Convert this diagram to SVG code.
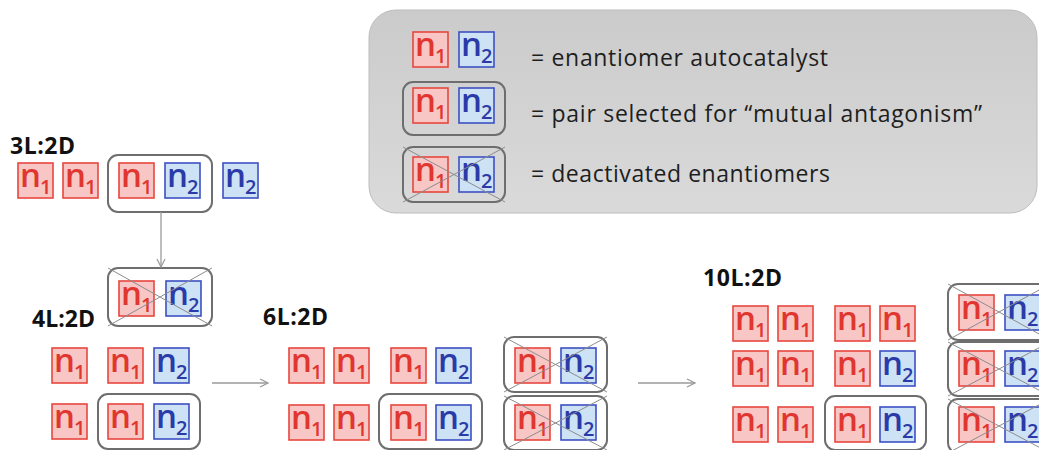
<svg xmlns="http://www.w3.org/2000/svg" width="1039" height="450" viewBox="0 0 1039 450">
<defs>
<linearGradient id="lg" x1="0" y1="0" x2="0" y2="1">
<stop offset="0" stop-color="#cbcbcb"/>
<stop offset="1" stop-color="#dadada"/>
</linearGradient>
<marker id="ah" viewBox="0 0 10 10" refX="9" refY="5" markerWidth="10" markerHeight="10" markerUnits="userSpaceOnUse" orient="auto">
<path d="M1,1 L9,5 L1,9" fill="none" stroke="#9a9a9a" stroke-width="1.2"/>
</marker>
<style>
.r{fill:#f8c6c4;stroke:#e8463f;stroke-width:1.6}
.b{fill:#cde2f4;stroke:#3d50c4;stroke-width:1.6}
.tr{fill:#e0362f;font-family:"Open Sans","Liberation Sans",sans-serif;font-weight:600}
.tb{fill:#2a3aa8;font-family:"Open Sans","Liberation Sans",sans-serif;font-weight:600}
.n{font-size:33px}
.s{font-size:20px}
.pair{fill:none;stroke:#6e6e6e;stroke-width:2}
.x{stroke:#8c8c8c;stroke-width:1;fill:none}
.lbl{font-family:"Open Sans","Liberation Sans",sans-serif;font-weight:bold;font-size:23px;fill:#111}
.leg{font-family:"Open Sans","Liberation Sans",sans-serif;font-size:23px;fill:#1e1e1e}
.conn{stroke:#9a9a9a;stroke-width:1.3;fill:none}
</style>
</defs>
<rect width="1039" height="450" fill="#ffffff"/>

<g id="legend">
<rect x="369" y="10" width="668" height="203" rx="27" fill="url(#lg)" stroke="#bdbdbd" stroke-width="1"/>
<g id="leg-n1"><rect class="r" x="413" y="32" width="35" height="35"/><text class="tr"><tspan class="n" x="415" y="56">n</tspan><tspan class="s" x="435" y="63">1</tspan></text></g>
<g id="leg-n2"><rect class="b" x="459" y="32" width="35" height="35"/><text class="tb"><tspan class="n" x="461" y="56">n</tspan><tspan class="s" x="481" y="63">2</tspan></text></g>
<text class="leg" x="531" y="66" textLength="297">= enantiomer autocatalyst</text>
<g id="leg-pair">
<rect class="pair" x="403" y="82" width="102" height="53" rx="10"/>
<rect class="r" x="413" y="88" width="35" height="35"/><text class="tr"><tspan class="n" x="415" y="112">n</tspan><tspan class="s" x="435" y="119">1</tspan></text>
<rect class="b" x="459" y="88" width="35" height="35"/><text class="tb"><tspan class="n" x="461" y="112">n</tspan><tspan class="s" x="481" y="119">2</tspan></text>
</g>
<text class="leg" x="531" y="122" textLength="451">= pair selected for “mutual antagonism”</text>
<g id="leg-deact">
<rect class="pair" x="403" y="147" width="102" height="55" rx="10"/>
<rect class="r" x="413" y="157" width="35" height="35"/><text class="tr"><tspan class="n" x="415" y="181">n</tspan><tspan class="s" x="435" y="188">1</tspan></text>
<rect class="b" x="459" y="157" width="35" height="35"/><text class="tb"><tspan class="n" x="461" y="181">n</tspan><tspan class="s" x="481" y="188">2</tspan></text>
<path class="x" d="M403,147 L505,202 M403,202 L505,147"/>
</g>
<text class="leg" x="531" y="182" textLength="299">= deactivated enantiomers</text>
</g>

<g id="stage-3L">
<text class="lbl" x="10" y="154" textLength="65">3L:2D</text>
<g id="s3-a"><rect class="r" x="18" y="163" width="35" height="35"/><text class="tr"><tspan class="n" x="20" y="187">n</tspan><tspan class="s" x="40" y="194">1</tspan></text></g>
<g id="s3-b"><rect class="r" x="63" y="163" width="35" height="35"/><text class="tr"><tspan class="n" x="65" y="187">n</tspan><tspan class="s" x="85" y="194">1</tspan></text></g>
<g id="s3-pair">
<rect class="pair" x="108" y="155" width="104" height="57" rx="10"/>
<rect class="r" x="119" y="163" width="35" height="35"/><text class="tr"><tspan class="n" x="121" y="187">n</tspan><tspan class="s" x="141" y="194">1</tspan></text>
<rect class="b" x="165" y="163" width="35" height="35"/><text class="tb"><tspan class="n" x="167" y="187">n</tspan><tspan class="s" x="187" y="194">2</tspan></text>
</g>
<g id="s3-e"><rect class="b" x="223" y="163" width="35" height="35"/><text class="tb"><tspan class="n" x="225" y="187">n</tspan><tspan class="s" x="245" y="194">2</tspan></text></g>
</g>

<g id="stage-4L">
<g id="s4-deact">
<rect class="pair" x="108" y="268" width="104" height="58" rx="10"/>
<rect class="r" x="119" y="281" width="35" height="35"/><text class="tr"><tspan class="n" x="121" y="305">n</tspan><tspan class="s" x="141" y="312">1</tspan></text>
<rect class="b" x="166" y="281" width="35" height="35"/><text class="tb"><tspan class="n" x="168" y="305">n</tspan><tspan class="s" x="188" y="312">2</tspan></text>
<path class="x" d="M108,268 L212,326 M108,326 L212,268"/>
</g>
<text class="lbl" x="32" y="327" textLength="63">4L:2D</text>
<g id="s4-a"><rect class="r" x="52" y="348" width="35" height="35"/><text class="tr"><tspan class="n" x="54" y="372">n</tspan><tspan class="s" x="74" y="379">1</tspan></text></g>
<g id="s4-b"><rect class="r" x="108" y="348" width="35" height="35"/><text class="tr"><tspan class="n" x="110" y="372">n</tspan><tspan class="s" x="130" y="379">1</tspan></text></g>
<g id="s4-c"><rect class="b" x="154" y="348" width="35" height="35"/><text class="tb"><tspan class="n" x="156" y="372">n</tspan><tspan class="s" x="176" y="379">2</tspan></text></g>
<g id="s4-d"><rect class="r" x="52" y="404" width="35" height="35"/><text class="tr"><tspan class="n" x="54" y="428">n</tspan><tspan class="s" x="74" y="435">1</tspan></text></g>
<g id="s4-pair">
<rect class="pair" x="98" y="394" width="102" height="55" rx="10"/>
<rect class="r" x="108" y="404" width="35" height="35"/><text class="tr"><tspan class="n" x="110" y="428">n</tspan><tspan class="s" x="130" y="435">1</tspan></text>
<rect class="b" x="154" y="404" width="35" height="35"/><text class="tb"><tspan class="n" x="156" y="428">n</tspan><tspan class="s" x="176" y="435">2</tspan></text>
</g>
</g>

<g id="stage-6L">
<text class="lbl" x="263" y="325" textLength="65">6L:2D</text>
<g id="s6-a"><rect class="r" x="289" y="348" width="35" height="35"/><text class="tr"><tspan class="n" x="291" y="372">n</tspan><tspan class="s" x="311" y="379">1</tspan></text></g>
<g id="s6-b"><rect class="r" x="334" y="348" width="35" height="35"/><text class="tr"><tspan class="n" x="336" y="372">n</tspan><tspan class="s" x="356" y="379">1</tspan></text></g>
<g id="s6-c"><rect class="r" x="391" y="348" width="35" height="35"/><text class="tr"><tspan class="n" x="393" y="372">n</tspan><tspan class="s" x="413" y="379">1</tspan></text></g>
<g id="s6-d"><rect class="b" x="436" y="348" width="35" height="35"/><text class="tb"><tspan class="n" x="438" y="372">n</tspan><tspan class="s" x="458" y="379">2</tspan></text></g>
<g id="s6-deact1">
<rect class="pair" x="504" y="337" width="103" height="55" rx="10"/>
<rect class="r" x="515" y="348" width="35" height="35"/><text class="tr"><tspan class="n" x="517" y="372">n</tspan><tspan class="s" x="537" y="379">1</tspan></text>
<rect class="b" x="561" y="348" width="35" height="35"/><text class="tb"><tspan class="n" x="563" y="372">n</tspan><tspan class="s" x="583" y="379">2</tspan></text>
<path class="x" d="M504,337 L607,392 M504,392 L607,337"/>
</g>
<g id="s6-e"><rect class="r" x="289" y="405" width="35" height="35"/><text class="tr"><tspan class="n" x="291" y="429">n</tspan><tspan class="s" x="311" y="436">1</tspan></text></g>
<g id="s6-f"><rect class="r" x="334" y="405" width="35" height="35"/><text class="tr"><tspan class="n" x="336" y="429">n</tspan><tspan class="s" x="356" y="436">1</tspan></text></g>
<g id="s6-pair">
<rect class="pair" x="379" y="394" width="103" height="55" rx="10"/>
<rect class="r" x="391" y="405" width="35" height="35"/><text class="tr"><tspan class="n" x="393" y="429">n</tspan><tspan class="s" x="413" y="436">1</tspan></text>
<rect class="b" x="436" y="405" width="35" height="35"/><text class="tb"><tspan class="n" x="438" y="429">n</tspan><tspan class="s" x="458" y="436">2</tspan></text>
</g>
<g id="s6-deact2">
<rect class="pair" x="504" y="396" width="103" height="54" rx="10"/>
<rect class="r" x="515" y="405" width="35" height="35"/><text class="tr"><tspan class="n" x="517" y="429">n</tspan><tspan class="s" x="537" y="436">1</tspan></text>
<rect class="b" x="561" y="405" width="35" height="35"/><text class="tb"><tspan class="n" x="563" y="429">n</tspan><tspan class="s" x="583" y="436">2</tspan></text>
<path class="x" d="M504,396 L607,450 M504,450 L607,396"/>
</g>
</g>

<g id="stage-10L">
<text class="lbl" x="703" y="286" textLength="79">10L:2D</text>
<g id="s10-r1a"><rect class="r" x="733" y="306" width="35" height="35"/><text class="tr"><tspan class="n" x="735" y="330">n</tspan><tspan class="s" x="755" y="337">1</tspan></text></g>
<g id="s10-r1b"><rect class="r" x="778" y="306" width="35" height="35"/><text class="tr"><tspan class="n" x="780" y="330">n</tspan><tspan class="s" x="800" y="337">1</tspan></text></g>
<g id="s10-r1c"><rect class="r" x="835" y="306" width="35" height="35"/><text class="tr"><tspan class="n" x="837" y="330">n</tspan><tspan class="s" x="857" y="337">1</tspan></text></g>
<g id="s10-r1d"><rect class="r" x="880" y="306" width="35" height="35"/><text class="tr"><tspan class="n" x="882" y="330">n</tspan><tspan class="s" x="902" y="337">1</tspan></text></g>
<g id="s10-r2a"><rect class="r" x="733" y="351" width="35" height="35"/><text class="tr"><tspan class="n" x="735" y="375">n</tspan><tspan class="s" x="755" y="382">1</tspan></text></g>
<g id="s10-r2b"><rect class="r" x="778" y="351" width="35" height="35"/><text class="tr"><tspan class="n" x="780" y="375">n</tspan><tspan class="s" x="800" y="382">1</tspan></text></g>
<g id="s10-r2c"><rect class="r" x="835" y="351" width="35" height="35"/><text class="tr"><tspan class="n" x="837" y="375">n</tspan><tspan class="s" x="857" y="382">1</tspan></text></g>
<g id="s10-r2d"><rect class="b" x="880" y="351" width="35" height="35"/><text class="tb"><tspan class="n" x="882" y="375">n</tspan><tspan class="s" x="902" y="382">2</tspan></text></g>
<g id="s10-r3a"><rect class="r" x="733" y="407" width="35" height="35"/><text class="tr"><tspan class="n" x="735" y="431">n</tspan><tspan class="s" x="755" y="438">1</tspan></text></g>
<g id="s10-r3b"><rect class="r" x="778" y="407" width="35" height="35"/><text class="tr"><tspan class="n" x="780" y="431">n</tspan><tspan class="s" x="800" y="438">1</tspan></text></g>
<g id="s10-pair">
<rect class="pair" x="825" y="396" width="101" height="54" rx="10"/>
<rect class="r" x="835" y="407" width="35" height="35"/><text class="tr"><tspan class="n" x="837" y="431">n</tspan><tspan class="s" x="857" y="438">1</tspan></text>
<rect class="b" x="880" y="407" width="35" height="35"/><text class="tb"><tspan class="n" x="882" y="431">n</tspan><tspan class="s" x="902" y="438">2</tspan></text>
</g>
<g id="s10-deact1">
<rect class="pair" x="948" y="284" width="102" height="56" rx="10"/>
<rect class="r" x="959" y="295" width="35" height="35"/><text class="tr"><tspan class="n" x="961" y="319">n</tspan><tspan class="s" x="981" y="326">1</tspan></text>
<rect class="b" x="1005" y="295" width="35" height="35"/><text class="tb"><tspan class="n" x="1007" y="319">n</tspan><tspan class="s" x="1027" y="326">2</tspan></text>
<path class="x" d="M948,284 L1050,340 M948,340 L1050,284"/>
</g>
<g id="s10-deact2">
<rect class="pair" x="948" y="342" width="102" height="54" rx="10"/>
<rect class="r" x="959" y="351" width="35" height="35"/><text class="tr"><tspan class="n" x="961" y="375">n</tspan><tspan class="s" x="981" y="382">1</tspan></text>
<rect class="b" x="1005" y="351" width="35" height="35"/><text class="tb"><tspan class="n" x="1007" y="375">n</tspan><tspan class="s" x="1027" y="382">2</tspan></text>
<path class="x" d="M948,342 L1050,396 M948,396 L1050,342"/>
</g>
<g id="s10-deact3">
<rect class="pair" x="948" y="399" width="102" height="54" rx="10"/>
<rect class="r" x="959" y="407" width="35" height="35"/><text class="tr"><tspan class="n" x="961" y="431">n</tspan><tspan class="s" x="981" y="438">1</tspan></text>
<rect class="b" x="1005" y="407" width="35" height="35"/><text class="tb"><tspan class="n" x="1007" y="431">n</tspan><tspan class="s" x="1027" y="438">2</tspan></text>
<path class="x" d="M948,399 L1050,453 M948,453 L1050,399"/>
</g>
</g>

<g id="connectors">
<line class="conn" x1="161" y1="212" x2="161" y2="267" marker-end="url(#ah)"/>
<line class="conn" x1="212" y1="383" x2="268" y2="383" marker-end="url(#ah)"/>
<line class="conn" x1="638" y1="383" x2="695" y2="383" marker-end="url(#ah)"/>
</g>
</svg>
